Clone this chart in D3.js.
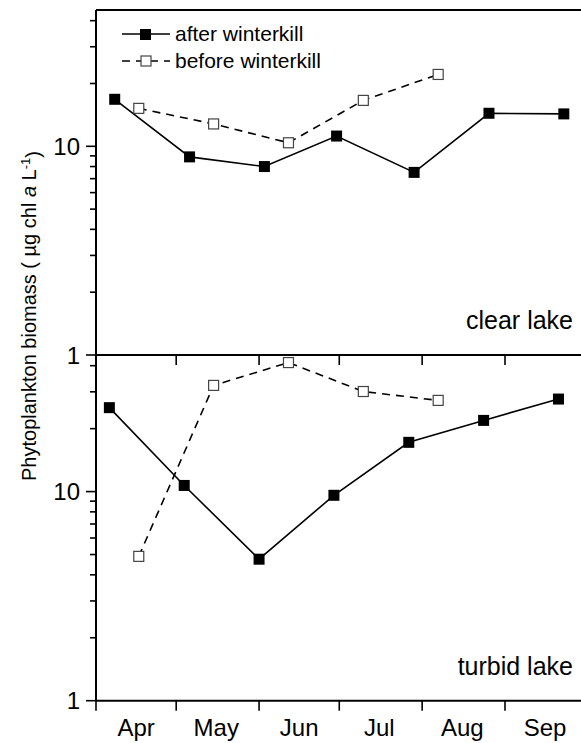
<!DOCTYPE html>
<html>
<head>
<meta charset="utf-8">
<script src="https://cdn.jsdelivr.net/npm/d3@7/dist/d3.min.js"></script>
<style>
    body { margin: 0; background: #fff; }
    svg text { font-family: Arial, "Liberation Sans", sans-serif; fill: #000; }
    .axis-line { stroke: #000; stroke-width: 2px; fill: none; }
    .tick-line { stroke: #000; stroke-width: 1.6px; }
</style>
</head>
<body>
<div id="chart"></div>
<script>
    // sampling dates
    var afterDatesClear = ["2001-04-08", "2001-05-06", "2001-06-03", "2001-06-30", "2001-07-29", "2001-08-26", "2001-09-23"];
    var afterDatesTurbid = ["2001-04-06", "2001-05-04", "2001-06-01", "2001-06-29", "2001-07-27", "2001-08-24", "2001-09-21"];
    var beforeDates = ["2001-04-17", "2001-05-15", "2001-06-12", "2001-07-10", "2001-08-07"];

    // chl a (ug/L)
    var clearAfter = [16.8, 8.9, 8.0, 11.2, 7.5, 14.4, 14.3];
    var clearBefore = [15.2, 12.8, 10.4, 16.6, 22.1];
    var turbidAfter = [25.2, 10.7, 4.75, 9.6, 17.2, 21.9, 27.7];
    var turbidBefore = [4.9, 32.2, 41.4, 30.1, 27.3];

    var months = ["Apr", "May", "Jun", "Jul", "Aug", "Sep"];
    var majorTicks = [1, 10];
    var minorTicks = [2, 3, 4, 5, 6, 7, 8, 9, 20, 30, 40];

    var width = 581, height = 743;
    var marginLeft = 96, panelTop = 10, panelMid = 355, panelBottom = 700.7;

    var parse = d3.timeParse("%Y-%m-%d");

    var svg = d3.select("#chart").append("svg")
        .attr("width", width)
        .attr("height", height);

    var x = d3.scaleTime()
        .domain([new Date(2001, 3, 1), new Date(2001, 9, 1)])
        .range([marginLeft, 585.2]);

    var monthStarts = months.map(function (m, i) { return new Date(2001, 3 + i, 1); });

    function pairs(dates, values) {
        return values.map(function (v, i) { return { date: parse(dates[i]), value: v }; });
    }

    function drawPanel(y0, y1, after, before, label) {
        var y = d3.scaleLog().domain([1, 45]).range([y1, y0]);
        var g = svg.append("g");

        // frame
        g.append("line").attr("class", "axis-line")
            .attr("x1", marginLeft).attr("x2", width + 10).attr("y1", y0).attr("y2", y0);
        g.append("line").attr("class", "axis-line")
            .attr("x1", marginLeft).attr("x2", width + 10).attr("y1", y1).attr("y2", y1);
        g.append("line").attr("class", "axis-line")
            .attr("x1", marginLeft).attr("x2", marginLeft).attr("y1", y0).attr("y2", y1);

        // y ticks
        g.selectAll(".ymaj").data(majorTicks).enter().append("line")
            .attr("class", "tick-line")
            .attr("x1", marginLeft - 10).attr("x2", marginLeft)
            .attr("y1", function (d) { return y(d); })
            .attr("y2", function (d) { return y(d); });
        g.selectAll(".ymin").data(minorTicks).enter().append("line")
            .attr("class", "tick-line")
            .attr("x1", marginLeft - 6).attr("x2", marginLeft)
            .attr("y1", function (d) { return y(d); })
            .attr("y2", function (d) { return y(d); });
        g.selectAll(".ylab").data(majorTicks).enter().append("text")
            .attr("x", marginLeft - 16)
            .attr("y", function (d) { return y(d); })
            .attr("dy", "0.36em")
            .attr("text-anchor", "end")
            .style("font-size", "24px")
            .text(function (d) { return d; });

        // x ticks (outward, below panel)
        g.selectAll(".xt").data(monthStarts).enter().append("line")
            .attr("class", "tick-line")
            .attr("x1", function (d) { return x(d); })
            .attr("x2", function (d) { return x(d); })
            .attr("y1", y1).attr("y2", y1 + 10);

        var line = d3.line()
            .x(function (d) { return x(d.date); })
            .y(function (d) { return y(d.value); });

        g.append("path").datum(before)
            .attr("d", line)
            .attr("fill", "none")
            .attr("stroke", "#000")
            .attr("stroke-width", 1.6)
            .attr("stroke-dasharray", "8,6");
        g.append("path").datum(after)
            .attr("d", line)
            .attr("fill", "none")
            .attr("stroke", "#000")
            .attr("stroke-width", 1.6);

        g.selectAll(".open").data(before).enter().append("rect")
            .attr("x", function (d) { return x(d.date) - 5; })
            .attr("y", function (d) { return y(d.value) - 5; })
            .attr("width", 10).attr("height", 10)
            .attr("fill", "#fff")
            .attr("stroke", "#444")
            .attr("stroke-width", 1.2);
        g.selectAll(".filled").data(after).enter().append("rect")
            .attr("x", function (d) { return x(d.date) - 5.5; })
            .attr("y", function (d) { return y(d.value) - 5.5; })
            .attr("width", 11).attr("height", 11)
            .attr("fill", "#000");

        g.append("text")
            .attr("x", 573)
            .attr("y", y1 - 26)
            .attr("text-anchor", "end")
            .style("font-size", "25px")
            .text(label);
    }

    drawPanel(panelTop, panelMid, pairs(afterDatesClear, clearAfter), pairs(beforeDates, clearBefore), "clear lake");
    drawPanel(panelMid, panelBottom, pairs(afterDatesTurbid, turbidAfter), pairs(beforeDates, turbidBefore), "turbid lake");

    // month labels centred in each month
    svg.selectAll(".month").data(months).enter().append("text")
        .attr("x", function (d, i) { return x(new Date(2001, 3 + i, 16)); })
        .attr("y", 736)
        .attr("text-anchor", "middle")
        .style("font-size", "24px")
        .text(function (d) { return d; });

    // legend
    var legend = svg.append("g");
    legend.append("line")
        .attr("x1", 122).attr("x2", 170).attr("y1", 34).attr("y2", 34)
        .attr("stroke", "#000").attr("stroke-width", 1.6);
    legend.append("rect")
        .attr("x", 140).attr("y", 29).attr("width", 11).attr("height", 11)
        .attr("fill", "#000");
    legend.append("text")
        .attr("x", 175).attr("y", 41)
        .style("font-size", "21px")
        .text("after winterkill");
    legend.append("line")
        .attr("x1", 122).attr("x2", 170).attr("y1", 61).attr("y2", 61)
        .attr("stroke", "#000").attr("stroke-width", 1.6)
        .attr("stroke-dasharray", "8,6");
    legend.append("rect")
        .attr("x", 141).attr("y", 56).attr("width", 10).attr("height", 10)
        .attr("fill", "#fff").attr("stroke", "#444").attr("stroke-width", 1.2);
    legend.append("text")
        .attr("x", 175).attr("y", 68)
        .style("font-size", "21px")
        .text("before winterkill");

    // y axis title
    var title = svg.append("text")
        .attr("transform", "translate(36,316) rotate(-90)")
        .attr("text-anchor", "middle")
        .style("font-size", "20px");
    title.append("tspan").text("Phytoplankton biomass ( µg chl ");
    title.append("tspan").style("font-style", "italic").text("a");
    title.append("tspan").text(" L");
    title.append("tspan").attr("dy", "-0.5em").style("font-size", "13px").text("-1");
    title.append("tspan").attr("dy", "0.5em").text(")");
</script>
</body>
</html>
